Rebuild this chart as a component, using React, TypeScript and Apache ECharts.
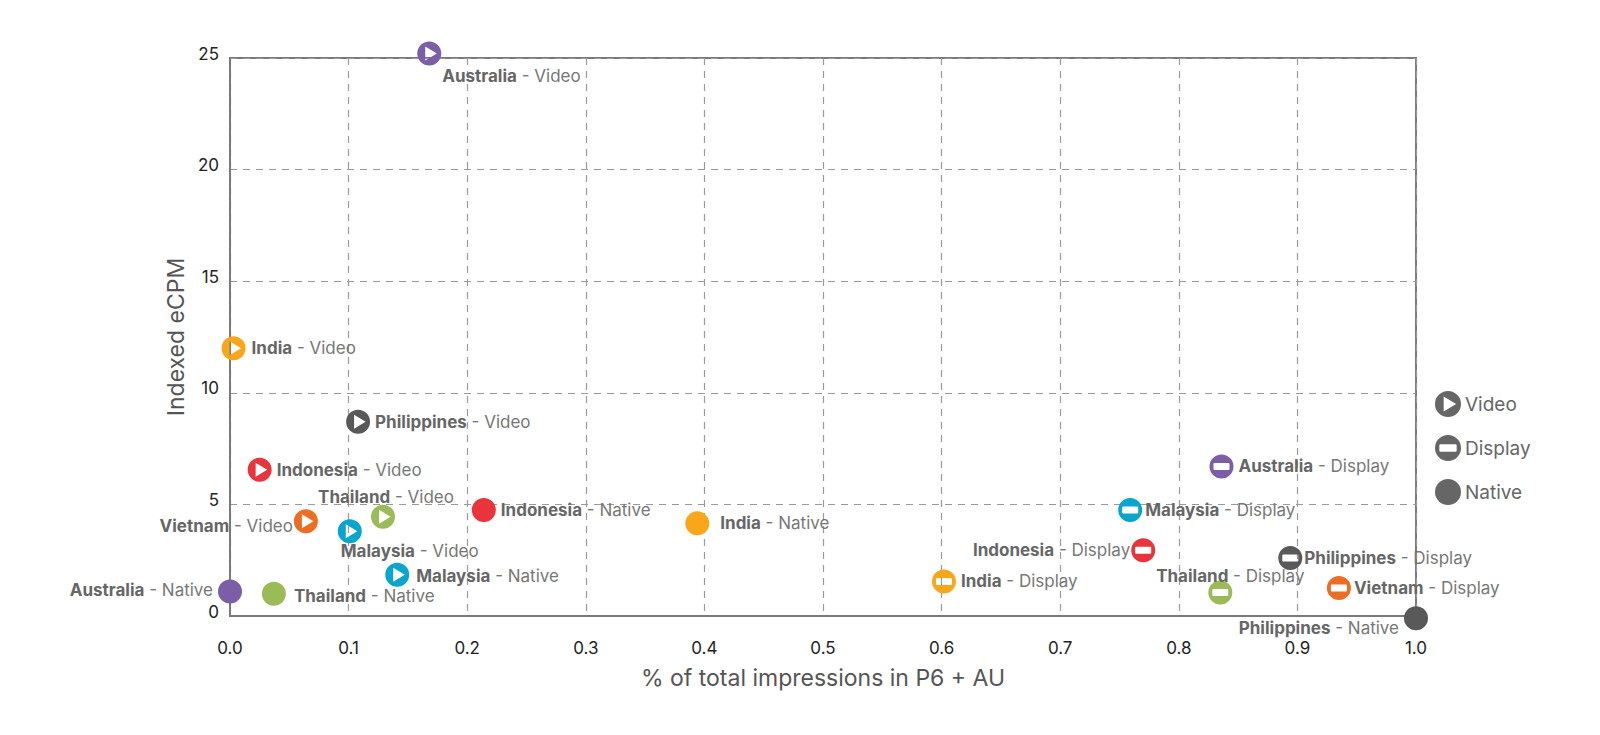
import React, { useEffect, useRef } from "react";
import * as echarts from "echarts";

const countries = ["Australia", "India", "Philippines", "Indonesia", "Thailand", "Vietnam", "Malaysia"];
const countryColors = ["#7B5EA7", "#F9A61A", "#595959", "#E8343A", "#9BBB59", "#EB6E24", "#0AA5CF"];

const videoX = [0.168, 0.003, 0.108, 0.025, 0.129, 0.064, 0.101];
const videoY = [25.2, 12.0, 8.7, 6.55, 4.45, 4.25, 3.8];

const displayX = [0.836, 0.602, 0.894, 0.770, 0.835, 0.935, 0.759];
const displayY = [6.7, 1.55, 2.6, 2.95, 1.05, 1.25, 4.75];

const nativeX: (number | null)[] = [0.0, 0.394, 1.0, 0.214, 0.037, null, 0.141];
const nativeY: (number | null)[] = [1.1, 4.15, -0.1, 4.75, 1.0, null, 1.85];

const xTicks = [0, 0.1, 0.2, 0.3, 0.4, 0.5, 0.6, 0.7, 0.8, 0.9, 1.0];
const yTicks = [0, 5, 10, 15, 20, 25];

const CIRCLE = "M12,0 A12,12 0 1,1 12,24 A12,12 0 1,1 12,0 Z";
const VIDEO_SYM = "path://" + CIRCLE + " M8,5 L8,19 L19.5,12 Z";
const DISPLAY_SYM =
  "path://" +
  CIRCLE +
  " M5,8.5 Q4,8.5 4,9.5 L4,14.5 Q4,15.5 5,15.5 L19,15.5 Q20,15.5 20,14.5 L20,9.5 Q20,8.5 19,8.5 Z";
const NATIVE_SYM = "path://" + CIRCLE;

const labelPlace: Record<string, [string, number, number]> = {
  "Australia-Video": ["right", -4, 22],
  "India-Video": ["right", 1, 0],
  "Thailand-Video": ["top", 3, 6],
  "Vietnam-Video": ["left", 4, 5],
  "Malaysia-Video": ["right", -26, 20],
  "Malaysia-Display": ["right", -2, 0],
  "Indonesia-Display": ["left", 4, 0],
  "Philippines-Display": ["right", -3, 0],
  "Vietnam-Display": ["right", -2, 0],
  "Thailand-Display": ["top", 10, 9],
  "Australia-Native": ["left", 0, -1],
  "Thailand-Native": ["right", 3, 2],
  "Malaysia-Native": ["right", 2, 1],
  "India-Native": ["right", 6, 0],
  "Philippines-Native": ["left", 0, 10],
};

const symbolOverride: Record<string, string> = {
  "Malaysia-Native": VIDEO_SYM,
};

const FONT = "Inter, 'Noto Sans', sans-serif";

function buildData(type: string, xs: (number | null)[], ys: (number | null)[]) {
  const out: any[] = [];
  countries.forEach((c, i) => {
    const x = xs[i];
    const y = ys[i];
    if (x === null || y === null || x === undefined || y === undefined) return;
    const key = c + "-" + type;
    const p = labelPlace[key] || ["right", 0, 0];
    const item: any = {
      name: c,
      value: [x, y],
      itemStyle: { color: countryColors[i] },
      label: { position: p[0], offset: [p[1], p[2]] },
    };
    if (symbolOverride[key]) item.symbol = symbolOverride[key];
    out.push(item);
  });
  return out;
}

function makeSeries(type: string, sym: string, xs: (number | null)[], ys: (number | null)[]) {
  return {
    name: type,
    type: "scatter",
    symbol: sym,
    symbolSize: 24,
    symbolKeepAspect: true,
    clip: false,
    itemStyle: { color: "#666666", opacity: 1 },
    label: {
      show: true,
      distance: 5,
      fontFamily: FONT,
      fontSize: 17,
      color: "#777777",
      formatter: (p: any) => `{b|${p.name}} - ${type}`,
      rich: {
        b: { fontFamily: FONT, fontSize: 17, fontWeight: "bold", color: "#666666" },
      },
    },
    emphasis: { disabled: true },
    data: buildData(type, xs, ys),
  };
}

export default function App() {
  const ref = useRef<HTMLDivElement>(null);
  useEffect(() => {
    if (!ref.current) return;
    const chart = echarts.init(ref.current, null, { renderer: "svg" });
    chart.setOption({
      animation: false,
      backgroundColor: "#ffffff",
      textStyle: { fontFamily: FONT },
      grid: {
        left: 230,
        right: 184,
        top: 58,
        bottom: 119,
        show: true,
        borderColor: "#7a7a7a",
        borderWidth: 2,
        backgroundColor: "transparent",
      },
      legend: {
        orient: "vertical",
        left: 1430,
        top: 386,
        itemWidth: 26,
        itemHeight: 26,
        itemGap: 18,
        textStyle: { fontFamily: FONT, fontSize: 19, color: "#666666", padding: [0, 0, 0, -1] },
        data: ["Video", "Display", "Native"],
        selectedMode: false,
      },
      xAxis: {
        type: "value",
        min: xTicks[0],
        max: xTicks[xTicks.length - 1],
        interval: 0.1,
        name: "% of total impressions in P6 + AU",
        nameLocation: "middle",
        nameGap: 50,
        nameTextStyle: { fontFamily: FONT, fontSize: 23, color: "#555555" },
        axisLine: { show: true, lineStyle: { color: "#7a7a7a", width: 2 } },
        axisTick: { show: false },
        axisLabel: {
          margin: 23,
          fontFamily: FONT,
          fontSize: 17,
          color: "#222222",
          formatter: (v: number) => v.toFixed(1),
        },
        splitLine: { show: true, lineStyle: { color: "#9a9a9a", type: [7, 6], width: 1.2 } },
      },
      yAxis: {
        type: "value",
        min: yTicks[0],
        max: yTicks[yTicks.length - 1],
        interval: 5,
        name: "Indexed eCPM",
        nameLocation: "middle",
        nameGap: 42,
        nameTextStyle: { fontFamily: FONT, fontSize: 23, color: "#555555" },
        axisLine: { show: true, lineStyle: { color: "#7a7a7a", width: 2 } },
        axisTick: { show: false },
        axisLabel: {
          margin: 11,
          fontFamily: FONT,
          fontSize: 17,
          color: "#222222",
          verticalAlign: "bottom",
          lineHeight: 9,
        },
        splitLine: { show: true, lineStyle: { color: "#9a9a9a", type: [7, 6], width: 1.2 } },
      },
      series: [
        makeSeries("Video", VIDEO_SYM, videoX, videoY),
        makeSeries("Display", DISPLAY_SYM, displayX, displayY),
        makeSeries("Native", NATIVE_SYM, nativeX, nativeY),
      ],
    });
    return () => chart.dispose();
  }, []);
  return (
    <div
      ref={ref}
      style={{ position: "fixed", left: 0, top: 0, width: 1600, height: 735, background: "#fff" }}
    />
  );
}
